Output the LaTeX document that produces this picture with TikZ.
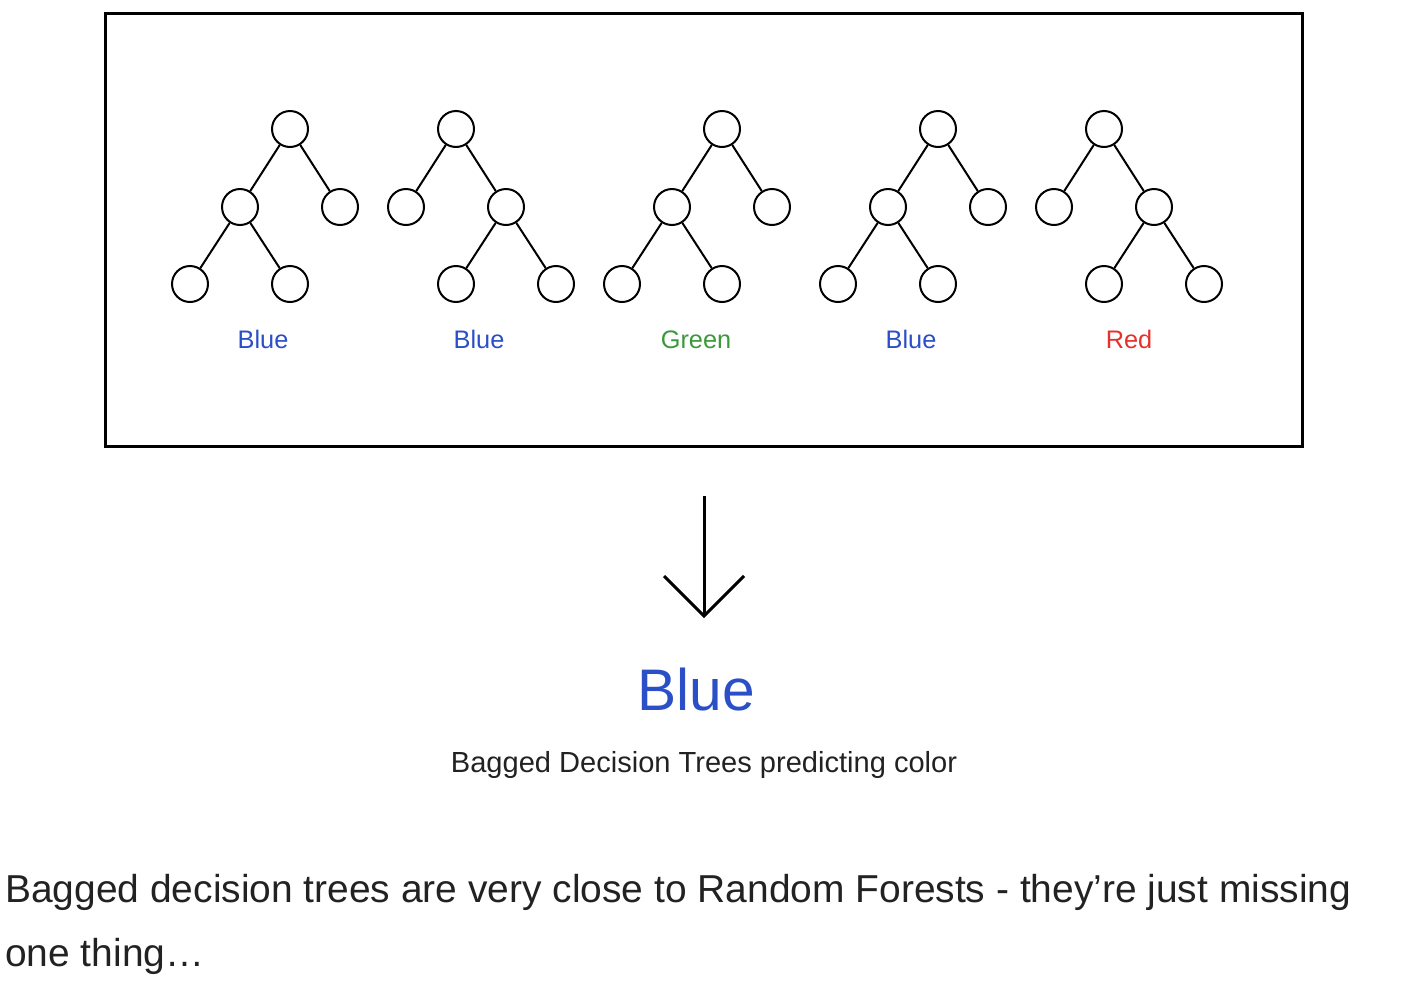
\documentclass[tikz,border=0pt]{standalone}
\usepackage{fontspec}
\setmainfont{Liberation Sans}
\definecolor{cblue}{HTML}{2A4FC6}
\definecolor{cgreen}{HTML}{3A993A}
\definecolor{cred}{HTML}{E8302A}
\definecolor{ctext}{HTML}{222222}
\begin{document}
\begin{tikzpicture}[x=0.75pt,y=-0.75pt,
  tn/.style={circle,draw=black,line width=1.5pt,minimum size=27pt,inner sep=0pt,fill=white},
  te/.style={line width=1.5pt},
  lab/.style={anchor=base,font=\fontsize{19}{22}\selectfont},
]
\useasboundingbox (0,0) rectangle (1408,1000);
\node[draw=black,line width=2.25pt,minimum width=897.75pt,minimum height=324.75pt,inner sep=0pt] (frame) at (703.5,229.5) {};
% tree 1
\node[tn] (r1) at (290,129) {};
\node[tn] (a1) at (240,207) {};
\node[tn] (b1) at (340,207) {};
\node[tn] (c1) at (190,284) {};
\node[tn] (d1) at (290,284) {};
\draw[te] (r1)--(a1); \draw[te] (r1)--(b1); \draw[te] (a1)--(c1); \draw[te] (a1)--(d1);
% tree 2
\node[tn] (r2) at (456,129) {};
\node[tn] (a2) at (406,207) {};
\node[tn] (b2) at (506,207) {};
\node[tn] (c2) at (456,284) {};
\node[tn] (d2) at (556,284) {};
\draw[te] (r2)--(a2); \draw[te] (r2)--(b2); \draw[te] (b2)--(c2); \draw[te] (b2)--(d2);
% tree 3
\node[tn] (r3) at (722,129) {};
\node[tn] (a3) at (672,207) {};
\node[tn] (b3) at (772,207) {};
\node[tn] (c3) at (622,284) {};
\node[tn] (d3) at (722,284) {};
\draw[te] (r3)--(a3); \draw[te] (r3)--(b3); \draw[te] (a3)--(c3); \draw[te] (a3)--(d3);
% tree 4
\node[tn] (r4) at (938,129) {};
\node[tn] (a4) at (888,207) {};
\node[tn] (b4) at (988,207) {};
\node[tn] (c4) at (838,284) {};
\node[tn] (d4) at (938,284) {};
\draw[te] (r4)--(a4); \draw[te] (r4)--(b4); \draw[te] (a4)--(c4); \draw[te] (a4)--(d4);
% tree 5
\node[tn] (r5) at (1104,129) {};
\node[tn] (a5) at (1054,207) {};
\node[tn] (b5) at (1154,207) {};
\node[tn] (c5) at (1104,284) {};
\node[tn] (d5) at (1204,284) {};
\draw[te] (r5)--(a5); \draw[te] (r5)--(b5); \draw[te] (b5)--(c5); \draw[te] (b5)--(d5);
% labels
\node[lab,text=cblue] (l1) at (263,348) {Blue};
\node[lab,text=cblue] (l2) at (479,348) {Blue};
\node[lab,text=cgreen] (l3) at (696,348) {Green};
\node[lab,text=cblue] (l4) at (911,348) {Blue};
\node[lab,text=cred] (l5) at (1129,348) {Red};
% arrow
\coordinate (atop) at (704,496);
\coordinate (atip) at (704,616);
\coordinate (al) at (664,576);
\coordinate (ar) at (744,576);
\draw[line width=2.25pt] (atop) -- (atip);
\draw[line width=2.25pt,line join=miter] (al) -- (atip) -- (ar);
% result
\node[anchor=base,text=cblue,font=\fontsize{44}{50}\selectfont] (res) at (696,710) {Blue};
\node[anchor=base,text=ctext,font=\fontsize{21.8}{25}\selectfont] (cap) at (704,772) {Bagged Decision Trees predicting color};
\node[anchor=base west,text=ctext,font=\fontsize{29.2}{34}\selectfont,inner sep=0pt] (t1) at (5,902) {Bagged decision trees are very close to Random Forests - they’re just missing};
\node[anchor=base west,text=ctext,font=\fontsize{29.2}{34}\selectfont,inner sep=0pt] (t2) at (5,966) {one thing…};
\end{tikzpicture}
\end{document}
